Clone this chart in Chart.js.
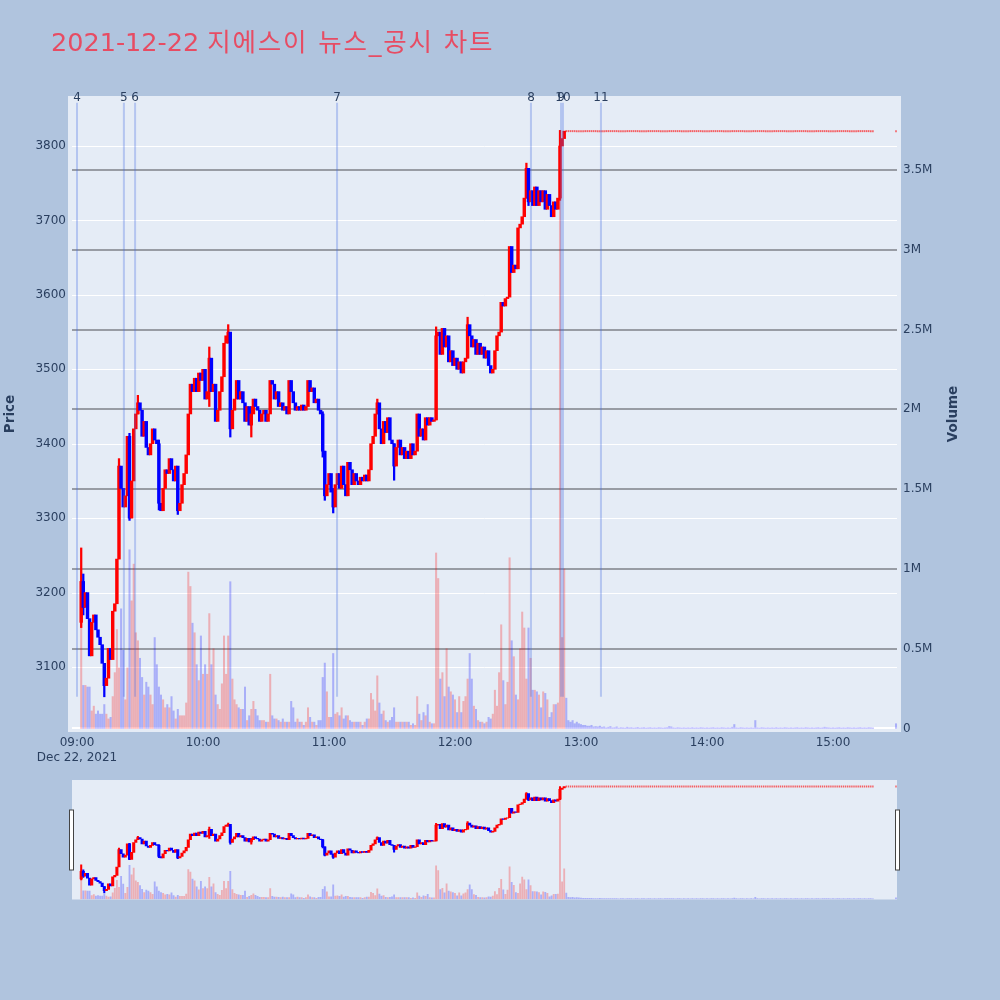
<!DOCTYPE html>
<html>
<head>
<meta charset="utf-8">
<script src="https://cdn.jsdelivr.net/npm/chart.js@4.4.1/dist/chart.umd.min.js"></script>
<style>
    html, body { margin: 0; padding: 0; background: #b0c4de; }
    #wrap { position: relative; width: 1000px; height: 1000px; }
    #main { position: absolute; left: 0; top: 0; }
    #slider { position: absolute; left: 0; top: 770px; }
</style>
</head>
<body>
<div id="wrap">
    <canvas id="main" width="1000" height="800"></canvas>
    <canvas id="slider" width="1000" height="140"></canvas>
</div>
<script>
const titleDate = "2021-12-22";
const titleText = "지에스이 뉴스_공시 차트";
const dateLabel = "Dec 22, 2021";

// 1-minute bars, first one at 09:02, open of a bar = close of the one before
const firstBar = "09:02";
const firstOpen = 3160;
const closes = [
    3215, 3180, 3200, 3165, 3115, 3160, 3170, 3150, 3140, 3130,
    3105, 3075, 3085, 3125, 3110, 3175, 3185, 3245, 3370, 3340,
    3315, 3330, 3410, 3300, 3350, 3420, 3440, 3455, 3445, 3410,
    3430, 3395, 3385, 3400, 3420, 3405, 3400, 3320, 3310, 3340,
    3365, 3360, 3380, 3365, 3350, 3370, 3310, 3320, 3345, 3360,
    3385, 3440, 3480, 3470, 3488, 3470, 3495, 3485, 3500, 3460,
    3470, 3515, 3470, 3480, 3430, 3445, 3470, 3490, 3535, 3545,
    3550, 3420, 3445, 3460, 3485, 3460, 3470, 3455, 3430, 3450,
    3425, 3440, 3460, 3450, 3445, 3430, 3440, 3445, 3430, 3440,
    3485, 3480, 3460, 3470, 3450, 3455, 3445, 3450, 3440, 3485,
    3470, 3455, 3445, 3450, 3445, 3452, 3445, 3450, 3485, 3470,
    3475, 3455, 3460, 3445, 3440, 3390, 3330, 3345, 3360, 3335,
    3315, 3345, 3360, 3340, 3370, 3345, 3330, 3375, 3365, 3345,
    3360, 3350, 3345, 3355, 3350, 3358, 3350, 3365, 3400, 3410,
    3440, 3455, 3420, 3400, 3430, 3415, 3435, 3405, 3400, 3370,
    3395, 3405, 3385, 3395, 3380, 3390, 3380, 3400, 3385, 3390,
    3440, 3410, 3420, 3405, 3435, 3425, 3435, 3430, 3432, 3545,
    3550, 3520, 3555, 3530, 3545, 3510, 3525, 3505, 3515, 3500,
    3510, 3495, 3510, 3515, 3560, 3545, 3530, 3540, 3520, 3535,
    3520, 3530, 3515, 3525, 3505, 3495, 3500, 3525, 3545, 3550,
    3590, 3585, 3595, 3597, 3665, 3630, 3640, 3635, 3690, 3695,
    3705, 3730, 3770, 3725, 3740, 3720, 3745, 3720, 3740, 3725,
    3740, 3715, 3735, 3720, 3705, 3725, 3715, 3730, 3800, 3810,
    3820,
    // upper limit from 12:53 on
    3820, 3820, 3820, 3820, 3820, 3820, 3820, 3820, 3820, 3820,
    3820, 3820, 3820, 3820, 3820, 3820, 3820, 3820, 3820, 3820,
    3820, 3820, 3820, 3820, 3820, 3820, 3820, 3820, 3820, 3820,
    3820, 3820, 3820, 3820, 3820, 3820, 3820, 3820, 3820, 3820,
    3820, 3820, 3820, 3820, 3820, 3820, 3820, 3820, 3820, 3820,
    3820, 3820, 3820, 3820, 3820, 3820, 3820, 3820, 3820, 3820,
    3820, 3820, 3820, 3820, 3820, 3820, 3820, 3820, 3820, 3820,
    3820, 3820, 3820, 3820, 3820, 3820, 3820, 3820, 3820, 3820,
    3820, 3820, 3820, 3820, 3820, 3820, 3820, 3820, 3820, 3820,
    3820, 3820, 3820, 3820, 3820, 3820, 3820, 3820, 3820, 3820,
    3820, 3820, 3820, 3820, 3820, 3820, 3820, 3820, 3820, 3820,
    3820, 3820, 3820, 3820, 3820, 3820, 3820, 3820, 3820, 3820,
    3820, 3820, 3820, 3820, 3820, 3820, 3820, 3820, 3820, 3820,
    3820, 3820, 3820, 3820, 3820, 3820, 3820, 3820, 3820, 3820,
    3820, 3820, 3820, 3820, 3820, 3820, 3820
];
// volume in millions of shares, same order as closes
const volumes = [
    0.98, 0.27, 0.27, 0.26, 0.26, 0.11, 0.14, 0.09, 0.11, 0.09,
    0.09, 0.15, 0.09, 0.06, 0.07, 0.2, 0.35, 0.62, 0.38, 0.75,
    0.49, 0.18, 0.38, 1.12, 0.8, 1.03, 0.6, 0.55, 0.44, 0.32,
    0.21, 0.29, 0.26, 0.21, 0.15, 0.57, 0.4, 0.26, 0.21, 0.18,
    0.13, 0.15, 0.13, 0.2, 0.11, 0.06, 0.12, 0.08, 0.08, 0.08,
    0.16, 0.98, 0.89, 0.66, 0.6, 0.4, 0.3, 0.58, 0.34, 0.4,
    0.34, 0.72, 0.4, 0.5, 0.21, 0.15, 0.12, 0.28, 0.58, 0.34,
    0.58, 0.92, 0.31, 0.18, 0.15, 0.13, 0.12, 0.12, 0.26, 0.05,
    0.08, 0.12, 0.17, 0.12, 0.08, 0.05, 0.05, 0.05, 0.04, 0.04,
    0.34, 0.08, 0.06, 0.06, 0.05, 0.04, 0.06, 0.04, 0.04, 0.04,
    0.17, 0.13, 0.04, 0.06, 0.04, 0.04, 0.02, 0.04, 0.13, 0.07,
    0.04, 0.04, 0.02, 0.05, 0.05, 0.32, 0.41, 0.23, 0.07, 0.07,
    0.47, 0.09, 0.1, 0.08, 0.13, 0.06, 0.08, 0.08, 0.05, 0.04,
    0.04, 0.04, 0.04, 0.04, 0.02, 0.04, 0.06, 0.06, 0.22, 0.18,
    0.11, 0.33, 0.16, 0.09, 0.11, 0.05, 0.04, 0.05, 0.07, 0.13,
    0.04, 0.04, 0.04, 0.04, 0.04, 0.04, 0.04, 0.02, 0.03, 0.02,
    0.2, 0.09, 0.05, 0.1, 0.08, 0.15, 0.04, 0.03, 0.03, 1.1,
    0.94, 0.31, 0.35, 0.2, 0.5, 0.26, 0.23, 0.21, 0.18, 0.1,
    0.2, 0.1, 0.17, 0.2, 0.31, 0.47, 0.31, 0.14, 0.12, 0.05,
    0.04, 0.04, 0.03, 0.04, 0.07, 0.06, 0.09, 0.24, 0.14, 0.35,
    0.65, 0.3, 0.15, 0.29, 1.07, 0.55, 0.45, 0.21, 0.18, 0.5,
    0.73, 0.63, 0.31, 0.63, 0.44, 0.24, 0.24, 0.23, 0.21, 0.13,
    0.23, 0.22, 0.18, 0.07, 0.1, 0.15, 0.15, 0.16, 3.72, 0.57,
    1.0,
    0.19, 0.05, 0.04, 0.05, 0.03, 0.04, 0.03, 0.025, 0.02, 0.02,
    0.015, 0.015, 0.02, 0.01, 0.012, 0.01, 0.015, 0.008,
    0.01, 0.005, 0.008, 0.012, 0.005, 0.006, 0.01, 0.004, 0.006, 0.005,
    0.004, 0.008, 0.005, 0.006, 0.004, 0.005, 0.007, 0.004, 0.005, 0.006,
    0.004, 0.005, 0.006, 0.004, 0.005, 0.004, 0.006, 0.005, 0.004, 0.005,
    0.006, 0.012, 0.01, 0.005, 0.004, 0.006, 0.005, 0.004, 0.005, 0.004,
    0.005, 0.004, 0.006, 0.004, 0.005, 0.004, 0.006, 0.005, 0.004, 0.005,
    0.004, 0.005, 0.006, 0.004, 0.005, 0.004, 0.006, 0.005, 0.004, 0.005,
    0.004, 0.008, 0.025, 0.005, 0.004, 0.006, 0.005, 0.004, 0.005, 0.004,
    0.005, 0.004, 0.05, 0.005, 0.004, 0.006, 0.005, 0.004, 0.005, 0.004,
    0.005, 0.004, 0.006, 0.004, 0.005, 0.004, 0.006, 0.005, 0.004, 0.005,
    0.004, 0.005, 0.006, 0.004, 0.005, 0.004, 0.006, 0.005, 0.004, 0.005,
    0.004, 0.005, 0.006, 0.004, 0.005, 0.008, 0.006, 0.005, 0.004, 0.005,
    0.004, 0.005, 0.006, 0.004, 0.005, 0.004, 0.006, 0.005, 0.004, 0.005,
    0.004, 0.005, 0.006, 0.004, 0.005, 0.004, 0.006, 0.005, 0.004
];
// closing auction
const auctionTime = "15:30";
const auctionClose = 3820;
const auctionVolume = 0.03;

// visible shadows: time, low, high
const wicks = [
    ["09:02", 3153, 3260], ["09:03", 3170, 3225], ["09:13", 3060, 3105], ["09:20", 3297, 3380],
    ["09:25", 3297, 3414], ["09:29", 3440, 3465], ["09:39", 3311, 3405], ["09:48", 3305, 3351],
    ["10:03", 3450, 3530], ["10:12", 3535, 3560], ["10:13", 3409, 3535], ["10:23", 3409, 3450],
    ["10:57", 3382, 3443], ["10:58", 3324, 3390], ["11:02", 3307, 3340], ["11:23", 3440, 3460],
    ["11:31", 3351, 3400], ["11:51", 3432, 3557], ["12:06", 3515, 3570], ["12:34", 3730, 3777],
    ["12:35", 3720, 3764], ["12:50", 3727, 3821]
];

// news / disclosure markers
const newsTimes = ["09:00:00", "09:22:20", "09:27:40", "11:03:50", "12:36:10", "12:50:30", "12:51:25", "13:09:30"];
const newsLabels = ["4", "5", "6", "7", "8", "9", "10", "11"];
const newsLineTop = 3858;
const newsLineBottom = 3060;

const priceTicks = [3100, 3200, 3300, 3400, 3500, 3600, 3700, 3800];
const volumeTicks = [0, 0.5, 1, 1.5, 2, 2.5, 3, 3.5];
const timeTicks = ["09:00", "10:00", "11:00", "12:00", "13:00", "14:00", "15:00"];

const RED = "#ff0000";
const BLUE = "#0000ff";
const FONT = '"DejaVu Sans", "Noto Sans CJK KR", sans-serif';
const TXT = "#2a3f5f";

function toMin(t) {
    const p = t.split(":").map(Number);
    return p[0] * 60 + p[1] + (p[2] || 0) / 60;
}
function fmtTime(v) {
    const h = Math.floor(v / 60), m = Math.round(v % 60);
    return String(h).padStart(2, "0") + ":" + String(m).padStart(2, "0");
}

// build candles
const candles = [];
let prev = firstOpen;
closes.forEach((c, i) => {
    candles.push({ x: toMin(firstBar) + i, o: prev, c: c, v: volumes[i] });
    prev = c;
});
candles.push({ x: toMin(auctionTime), o: prev, c: auctionClose, v: auctionVolume });

const bodyRows = candles.filter(d => d.o !== d.c);
const flatRows = candles.filter(d => d.o === d.c);
const colorAt = {};
candles.forEach(d => colorAt[d.x] = d.c >= d.o ? RED : BLUE);

const volData = candles.map(d => ({ x: d.x, y: d.v }));
const volColors = candles.map(d => d.c > d.o ? "rgba(255,0,0,0.26)" : "rgba(0,0,255,0.26)");
const bodyData = bodyRows.map(d => ({ x: d.x, y: [d.o, d.c] }));
const bodyColors = bodyRows.map(d => d.c > d.o ? RED : BLUE);
const wickData = wicks.map(w => ({ x: toMin(w[0]), y: [w[1], w[2]] }));
const wickColors = wicks.map(w => colorAt[toMin(w[0])] || RED);
const flatData = flatRows.map(d => ({ x: d.x, y: d.c }));

function buildDatasets(s) {
    return [
        { type: "bar", data: volData, backgroundColor: volColors, xAxisID: "x", yAxisID: "yv", barThickness: s.vol, grouped: false, order: 4 },
        { type: "bar", data: wickData, backgroundColor: wickColors, xAxisID: "x", yAxisID: "y", barThickness: s.wick, grouped: false, order: 3 },
        { type: "bar", data: bodyData, backgroundColor: bodyColors, xAxisID: "x", yAxisID: "y", barThickness: s.body, grouped: false, order: 2 },
        {
            type: "scatter", data: flatData, xAxisID: "x", yAxisID: "y", order: 1,
            pointStyle: "line", pointRadius: s.flat, pointBorderWidth: 2,
            pointBorderColor: "rgba(255,0,0,0.6)", pointBackgroundColor: "rgba(255,0,0,0.6)"
        }
    ];
}

const priceMin = 3012.7, priceMax = 3867.2;
const volMin = -0.022, volMax = 3.964;

const mainPlugin = {
    id: "mainDeco",
    beforeDraw(chart) {
        const { ctx, chartArea: a } = chart;
        ctx.save();
        ctx.fillStyle = "#b0c4de";
        ctx.fillRect(0, 0, chart.width, chart.height);
        ctx.fillStyle = "#e5ecf6";
        ctx.fillRect(a.left, a.top, a.right - a.left, a.bottom - a.top);
        ctx.restore();
    },
    beforeDatasetsDraw(chart) {
        const { ctx, chartArea: a, scales } = chart;
        ctx.save();
        ctx.strokeStyle = "#ffffff";
        ctx.lineWidth = 1;
        priceTicks.forEach(v => {
            const y = Math.round(scales.y.getPixelForValue(v)) + 0.5;
            ctx.beginPath(); ctx.moveTo(a.left + 4, y); ctx.lineTo(a.right - 4, y); ctx.stroke();
        });
        ctx.lineWidth = 2;
        volumeTicks.forEach(v => {
            ctx.strokeStyle = v === 0 ? "#ffffff" : "#989ca4";
            const y = Math.round(scales.yv.getPixelForValue(v));
            ctx.beginPath(); ctx.moveTo(a.left + 4, y); ctx.lineTo(a.right - 4, y); ctx.stroke();
        });
        ctx.restore();
    },
    afterDatasetsDraw(chart) {
        const { ctx, scales } = chart;
        ctx.save();
        ctx.strokeStyle = "rgba(65,105,225,0.3)";
        ctx.lineWidth = 2;
        const yTop = scales.y.getPixelForValue(newsLineTop);
        const yBot = scales.y.getPixelForValue(newsLineBottom);
        newsTimes.forEach(t => {
            const x = scales.x.getPixelForValue(toMin(t));
            ctx.beginPath(); ctx.moveTo(x, yTop); ctx.lineTo(x, yBot); ctx.stroke();
        });
        ctx.fillStyle = TXT;
        ctx.font = "12px " + FONT;
        ctx.textAlign = "center";
        ctx.textBaseline = "alphabetic";
        newsTimes.forEach((t, i) => {
            const x = scales.x.getPixelForValue(toMin(t));
            ctx.fillText(newsLabels[i], x, 101);
        });
        ctx.restore();
    },
    afterDraw(chart) {
        const { ctx, chartArea: a } = chart;
        ctx.save();
        ctx.fillStyle = "#e74c63";
        ctx.font = "25.5px " + FONT;
        ctx.textAlign = "left";
        ctx.textBaseline = "alphabetic";
        ctx.fillText(titleDate + " ", 51, 51);
        const dx = ctx.measureText(titleDate + " ").width;
        ctx.letterSpacing = "1.8px";
        ctx.fillText(titleText, 51 + dx, 51);
        ctx.letterSpacing = "0px";
        ctx.fillStyle = TXT;
        ctx.font = "bold 13.5px " + FONT;
        ctx.textAlign = "center";
        ctx.textBaseline = "middle";
        const cy = (a.top + a.bottom) / 2;
        [["Price", 10], ["Volume", 953]].forEach(([txt, x]) => {
            ctx.save();
            ctx.translate(x, cy);
            ctx.rotate(-Math.PI / 2);
            ctx.fillText(txt, 0, 0);
            ctx.restore();
        });
        ctx.restore();
    }
};

const tickFont = { family: FONT, size: 12, lineHeight: 1.25 };

new Chart(document.getElementById("main"), {
    type: "bar",
    data: { datasets: buildDatasets({ vol: 1.4, wick: 1.6, body: 2.8, flat: 0.8 }) },
    options: {
        responsive: false,
        animation: false,
        devicePixelRatio: 1,
        layout: { padding: { top: 96, left: 0, right: 0, bottom: 0 } },
        plugins: { legend: { display: false }, tooltip: { enabled: false } },
        scales: {
            x: {
                type: "linear", position: "bottom", min: 535.714, max: 932.38, offset: false,
                grid: { display: false, drawTicks: false }, border: { display: false },
                afterBuildTicks: s => { s.ticks = timeTicks.map(t => ({ value: toMin(t) })); },
                afterFit: s => { s.height = 68; },
                ticks: {
                    autoSkip: false, maxRotation: 0, padding: 3, color: TXT, font: tickFont,
                    callback: (v, i) => i === 0 ? [fmtTime(v), dateLabel] : fmtTime(v)
                }
            },
            y: {
                type: "linear", position: "left", min: priceMin, max: priceMax,
                grid: { display: false, drawTicks: false }, border: { display: false },
                afterBuildTicks: s => { s.ticks = priceTicks.map(v => ({ value: v })); },
                afterFit: s => { s.width = 68; },
                ticks: { padding: 2, color: TXT, font: tickFont, callback: v => String(v) }
            },
            yv: {
                type: "linear", position: "right", min: volMin, max: volMax,
                grid: { display: false, drawTicks: false }, border: { display: false },
                afterBuildTicks: s => { s.ticks = volumeTicks.map(v => ({ value: v })); },
                afterFit: s => { s.width = 99; },
                ticks: { padding: 2, color: TXT, font: tickFont, callback: v => v === 0 ? "0" : v + "M" }
            }
        }
    },
    plugins: [mainPlugin]
});

const sliderPlugin = {
    id: "sliderDeco",
    beforeDraw(chart) {
        const { ctx, chartArea: a } = chart;
        ctx.save();
        ctx.fillStyle = "#b0c4de";
        ctx.fillRect(0, 0, chart.width, chart.height);
        ctx.fillStyle = "#e5ecf6";
        ctx.fillRect(a.left, a.top, a.right - a.left, a.bottom - a.top);
        ctx.restore();
    },
    afterDraw(chart) {
        const { ctx, chartArea: a } = chart;
        ctx.save();
        ctx.fillStyle = "#ffffff";
        ctx.strokeStyle = "#444444";
        ctx.lineWidth = 1;
        const hTop = a.top + 30, hH = 60;
        [a.left - 2.5, a.right - 1.5].forEach(x => {
            ctx.fillRect(x, hTop, 4, hH);
            ctx.strokeRect(x, hTop, 4, hH);
        });
        ctx.restore();
    }
};

new Chart(document.getElementById("slider"), {
    type: "bar",
    data: { datasets: buildDatasets({ vol: 1.2, wick: 1.4, body: 2.4, flat: 0.7 }) },
    options: {
        responsive: false,
        animation: false,
        devicePixelRatio: 1,
        layout: { padding: { top: 10, left: 72, right: 103, bottom: 10.5 } },
        plugins: { legend: { display: false }, tooltip: { enabled: false } },
        scales: {
            x: { type: "linear", display: false, min: 537.62, max: 930.48, offset: false },
            y: { type: "linear", display: false, min: priceMin, max: priceMax },
            yv: { type: "linear", display: false, min: volMin, max: volMax }
        }
    },
    plugins: [sliderPlugin]
});
</script>
</body>
</html>
